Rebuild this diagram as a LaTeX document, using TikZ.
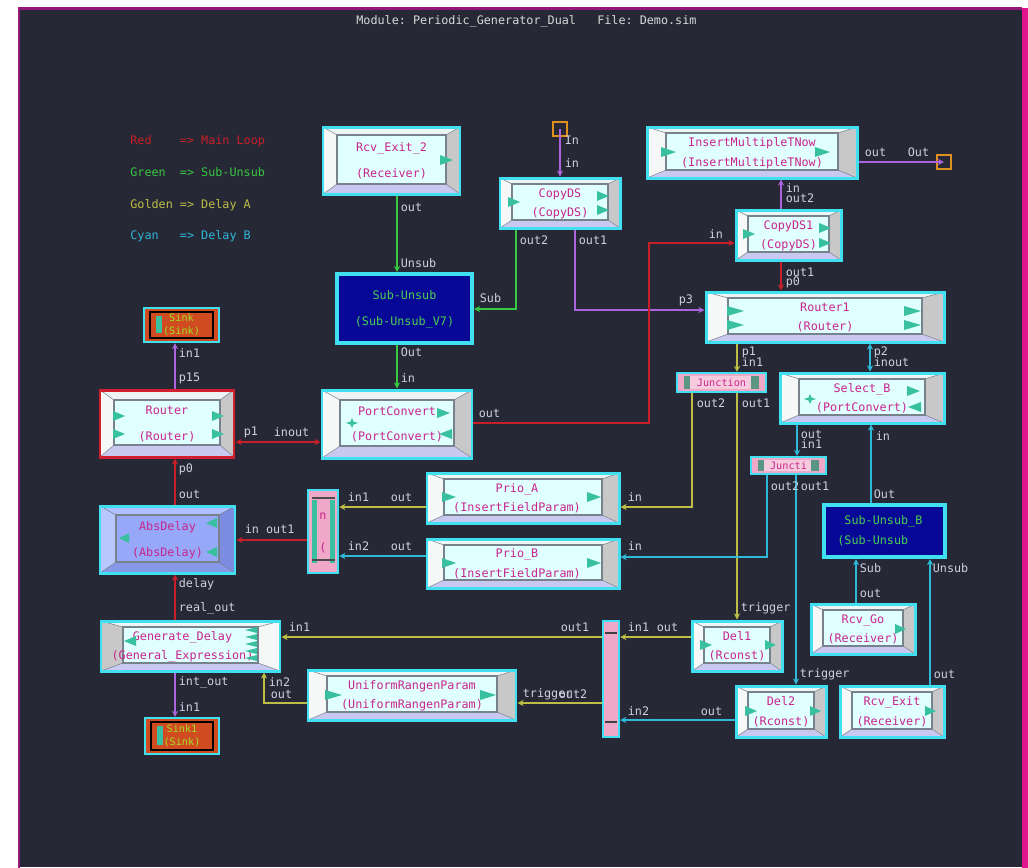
\documentclass[tikz,border=0pt]{standalone}
\usepackage{fontspec}
\setmonofont{DejaVu Sans Mono}
\usepackage{tikz}
\usetikzlibrary{arrows.meta, calc, fit}
\definecolor{bgdark}{RGB}{38,40,54}
\definecolor{frmpurple}{RGB}{150,24,120}
\definecolor{frmpink}{RGB}{224,20,140}
\definecolor{bcyan}{RGB}{64,224,240}
\definecolor{bface}{RGB}{224,255,255}
\definecolor{bvleft}{RGB}{246,248,248}
\definecolor{bvright}{RGB}{200,200,200}
\definecolor{bvtop}{RGB}{236,244,244}
\definecolor{bvbot}{RGB}{200,200,240}
\definecolor{bvedge}{RGB}{120,130,140}
\definecolor{bmag}{RGB}{200,36,140}
\definecolor{tricol}{RGB}{56,192,160}
\definecolor{plgray}{RGB}{208,208,224}
\definecolor{lnred}{RGB}{200,32,40}
\definecolor{lngreen}{RGB}{56,200,64}
\definecolor{lngold}{RGB}{190,190,70}
\definecolor{lncyan}{RGB}{48,184,216}
\definecolor{lnpurple}{RGB}{170,100,220}
\definecolor{suublue}{RGB}{8,8,150}
\definecolor{suutext}{RGB}{72,208,80}
\definecolor{absface}{RGB}{152,168,248}
\definecolor{absleft}{RGB}{184,200,255}
\definecolor{absright}{RGB}{124,140,224}
\definecolor{abstop}{RGB}{176,192,255}
\definecolor{absbot}{RGB}{136,152,232}
\definecolor{jpink}{RGB}{240,168,200}
\definecolor{jteal}{RGB}{90,150,130}
\definecolor{sinkred}{RGB}{208,76,32}
\definecolor{sinktxt}{RGB}{160,224,40}
\definecolor{portorange}{RGB}{224,144,32}
\definecolor{rtred}{RGB}{210,32,48}
\definecolor{ttlgray}{RGB}{216,216,216}
\newcommand{\blkfont}{\fontsize{6.7}{11.3}\selectfont\ttfamily}
\newcommand{\smlfont}{\fontsize{5.8}{7.4}\selectfont\ttfamily}
\newcommand{\blkt}[1]{\begin{tabular}{@{}c@{}}#1\end{tabular}}
\tikzset{
  blk/.style={rectangle, draw=bcyan, fill=bface, line width=1.7pt, inner sep=0pt},
  btxt/.style={inner sep=0pt, text=bmag, font=\blkfont},
  gbevel/.style n args={6}{path picture={
    \coordinate (bA) at (path picture bounding box.north west);
    \coordinate (bB) at (path picture bounding box.south east);
    \coordinate (iA) at ($(bA)+(#1,#2)$);
    \coordinate (iB) at ($(bB)+(-#1,-#2-2)$);
    \fill[#5] (bA) -- (bA -| bB) -- (iB |- iA) -- (iA) -- cycle;
    \fill[#6] (bA |- bB) -- (bB) -- (iB) -- (iA |- iB) -- cycle;
    \fill[#3] (bA) -- (iA) -- (iA |- iB) -- (bA |- bB) -- cycle;
    \fill[#4] (bA -| bB) -- (iB |- iA) -- (iB) -- (bB) -- cycle;
    \draw[bvedge, line width=0.3pt] (bA) -- (iA) (bA -| bB) -- (iB |- iA)
      (bB) -- (iB) (bA |- bB) -- (iA |- iB);
    \draw[bvedge, line width=0.6pt] (iA) rectangle (iB);
  }},
  bevel/.style 2 args={gbevel={#1}{#2}{bvleft}{bvright}{bvtop}{bvbot}},
  revbevel/.style 2 args={gbevel={#1}{#2}{bvright}{bvleft}{bvtop}{bvbot}},
  bluebevel/.style 2 args={fill=absface, gbevel={#1}{#2}{absleft}{absright}{abstop}{absbot}},
  suu/.style={rectangle, draw=bcyan, fill=suublue, line width=2.3pt, inner sep=0pt},
  stxt/.style={inner sep=0pt, text=suutext, font=\blkfont},
  suutxt/.style={anchor=west, inner sep=0pt, text=suutext, font=\blkfont, align=left},
  jnc/.style={rectangle, draw=bcyan, fill=jpink, line width=1.2pt, inner sep=0pt,
    path picture={
      \fill[jteal] ($(path picture bounding box.north west)+(7,3)$)
        rectangle ($(path picture bounding box.south east)+(-7,-3)$);
      \fill[jpink!60] ($(path picture bounding box.north west)+(13,3)$)
        rectangle ($(path picture bounding box.south east)+(-15,-3)$);}},
  jtxt/.style={inner sep=0pt, text=bmag, font=\smlfont},
  snk/.style={rectangle, draw=bcyan, fill=sinkred, line width=1.2pt, inner sep=0pt,
    path picture={
      \draw[black, line width=0.6pt] ($(path picture bounding box.north west)+(6,4)$)
        rectangle ($(path picture bounding box.south east)+(-6,-4)$);
      \fill[tricol] ($(path picture bounding box.north west)+(12,8)$)
        rectangle ($(path picture bounding box.south west)+(18,-9)$);}},
  ktxt/.style={inner sep=0pt, text=sinktxt, font=\smlfont},
  pnk/.style={rectangle, draw=bcyan, fill=jpink, line width=1.4pt, inner sep=0pt},
  pbox/.style={rectangle, draw=portorange, line width=0.8pt, minimum size=0.28cm, inner sep=0pt},
  plab/.style={anchor=west, inner sep=0.3pt, text=plgray, font=\blkfont},
  leg/.style={anchor=west, inner sep=0pt, font=\blkfont},
  tritip/.style={fill=tricol},
  port/.style={line width=0.8pt, -{Stealth[length=3.5pt, width=3.5pt]}},
  twoway/.style={line width=0.8pt, {Stealth[length=3.5pt, width=3.5pt]}-{Stealth[length=3.5pt, width=3.5pt]}}
}
\begin{document}
\begin{tikzpicture}[x=0.02cm, y=-0.02cm]
  \useasboundingbox (0,0) rectangle (1028,867);
  % window frame
  \fill[white] (0,0) rectangle (1028,867);
  \fill[bgdark] (19,8) rectangle (1028,867);
  \draw[frmpurple, line width=1.7pt] (19,875) -- (19,8) -- (1022,8);
  \draw[frmpink, line width=3pt] (1025,8) -- (1025,875);

  \node[anchor=west, inner sep=0pt, text=ttlgray, font=\blkfont] (title) at (356,21)
    {Module:~Periodic\_Generator\_Dual~~~File:~Demo.sim};

  % legend
  \node[leg, text=lnred] (legred) at (130,141) {Red~~~~=>~Main~Loop};
  \node[leg, text=lngreen] (leggreen) at (130,172) {Green~~=>~Sub-Unsub};
  \node[leg, text=lngold] (leggold) at (130,205) {Golden~=>~Delay~A};
  \node[leg, text=lncyan] (legcyan) at (130,236) {Cyan~~~=>~Delay~B};

  % actors
  \node[blk, bevel={14}{8}, fit={(323,127) (460,194)},
    label={[btxt]center:\blkt{Rcv\_Exit\_2\\[3.4pt](Receiver)}}] (rcvexittwo) {};
  \node[suu, fit={(337,274) (472,343)},
    label={[stxt]center:\blkt{Sub-Unsub\\[3.4pt](Sub-Unsub\_V7)}}] (subunsub) {};
  \node[pbox] (inport) at (560,129) {};
  \node[blk, bevel={12}{6}, fit={(500,178) (620,228)},
    label={[btxt]center:\blkt{CopyDS\\(CopyDS)}}] (cpyds) {};
  \node[blk, bevel={19}{6}, fit={(647,127) (857,178)},
    label={[btxt]center:\blkt{InsertMultipleTNow\\(InsertMultipleTNow)}}] (insmulti) {};
  \node[pbox] (outport) at (944,162) {};
  \node[blk, bevel={12}{6}, fit={(736,210) (841,260)},
    label={[btxt]center:\blkt{CopyDS1\\(CopyDS)}}] (cpydsone) {};
  \node[blk, bevel={22}{6}, fit={(706,292) (944,342)},
    label={[btxt]center:\blkt{Router1\\(Router)}}] (routerone) {};
  \node[jnc, fit={(677,373) (766,392)}, label={[jtxt]center:Junction}] (jnca) {};
  \node[blk, bevel={19}{6}, fit={(780,373) (944,423)},
    label={[btxt]center:\blkt{Select\_B\\(PortConvert)}}] (selb) {};
  \node[jnc, fit={(751,457) (826,474)}, label={[jtxt]center:Juncti}] (jncb) {};
  \node[suu, fit={(824,505) (945,557)}] (subunsubb) {};
  \node[suutxt] (subunsubbtxt) at (837,531) {\hphantom{(}Sub-Unsub\_B\\(Sub-Unsub};
  \node[blk, bevel={12}{6}, fit={(811,604) (915,654)},
    label={[btxt]center:\blkt{Rcv\_Go\\(Receiver)}}] (rcvgo) {};
  \node[blk, bevel={12}{6}, fit={(840,686) (944,737)},
    label={[btxt]center:\blkt{Rcv\_Exit\\(Receiver)}}] (rcvexit) {};
  \node[blk, bevel={12}{6}, fit={(736,686) (826,737)},
    label={[btxt]center:\blkt{Del2\\(Rconst)}}] (deltwo) {};
  \node[blk, bevel={12}{6}, fit={(692,621) (782,671)},
    label={[btxt]center:\blkt{Del1\\(Rconst)}}] (delone) {};
  \node[pnk, fit={(603,621) (619,737)}, path picture={
      \draw[black!75, line width=0.8pt] ($(path picture bounding box.north west)+(2,12)$) -- ++(12,0);
      \draw[black!75, line width=0.8pt] ($(path picture bounding box.south west)+(2,-15)$) -- ++(12,0);}] (mrg) {};
  \node[blk, bevel={19}{6}, fit={(308,670) (516,720)},
    label={[btxt]center:\blkt{UniformRangenParam\\(UniformRangenParam)}}] (unif) {};
  \node[blk, revbevel={22}{6}, fit={(101,621) (280,671)},
    label={[btxt, xshift=-0.16cm]center:\blkt{Generate\_Delay\\(General\_Expression)}}] (gendelay) {};
  \node[snk, fit={(145,718) (219,754)}, label={[ktxt]center:\blkt{Sink1\\(Sink)}}] (sinkone) {};
  \node[snk, fit={(144,308) (219,342)}, label={[ktxt]center:\blkt{Sink\\(Sink)}}] (sink) {};
  \node[blk, draw=rtred, bevel={14}{10}, fit={(100,390) (234,457)},
    label={[btxt]center:\blkt{Router\\[3.4pt](Router)}}] (router) {};
  \node[blk, bevel={18}{10}, fit={(322,390) (472,458)},
    label={[btxt]center:\blkt{PortConvert\\[3.4pt](PortConvert)}}] (portconv) {};
  \node[blk, bluebevel={16}{9}, fit={(100,506) (235,573)},
    label={[btxt]center:\blkt{AbsDelay\\[3.4pt](AbsDelay)}}] (absdelay) {};
  \node[pnk, fit={(308,490) (338,573)}, path picture={
      \coordinate (bA) at (path picture bounding box.north west);
      \fill[tricol] ($(bA)+(4,10)$) rectangle ($(bA)+(9,73)$);
      \fill[tricol] ($(bA)+(22,10)$) rectangle ($(bA)+(27,73)$);
      \draw[black!70, line width=0.6pt] ($(bA)+(4,8)$) -- ($(bA)+(27,8)$);
      \draw[black!70, line width=0.6pt] ($(bA)+(4,70)$) -- ($(bA)+(27,70)$);},
    label={[btxt]center:\blkt{n\\[6.7pt](}}] (prionode) {};
  \node[blk, bevel={17}{6}, fit={(427,473) (619,523)},
    label={[btxt, xshift=-0.12cm]center:\blkt{Prio\_A\\(InsertFieldParam)}}] (prioa) {};
  \node[blk, bevel={17}{6}, fit={(427,539) (619,588)},
    label={[btxt, xshift=-0.12cm]center:\blkt{Prio\_B\\(InsertFieldParam)}}] (priob) {};

  % port icons
  \foreach \x/\y/\w in {440/160/13, 508/202/12, 597/196/12, 597/210/12, 661/152/15, 815/152/15,
      743/234/12, 819/228/12, 819/243/12, 727/311/17, 727/325/17, 904/311/17, 904/325/17,
      113/416/12, 113/434/12, 212/416/12, 212/434/12, 437/413/13, 452/434/-13,
      907/391/13, 921/407/-13, 217/523/-11, 217/552/-11, 129/538/-10,
      442/497/14, 587/497/14, 442/563/14, 587/563/14, 136/641/-12, 325/695/17, 480/695/16,
      700/645/12, 765/645/11, 745/711/12, 810/711/11, 895/629/11, 925/711/11}
    \fill[tritip] (\x,\y-5) -- (\x,\y+5) -- ({\x+(\w)},\y) -- cycle;
  \foreach \y in {630,637,644,651,658}
    \fill[tritip] (257,\y-3) -- (257,\y+3) -- (245,\y) -- cycle;
  \foreach \x/\y in {352/423, 810/399}
    \fill[tritip] (\x-6,\y) -- (\x-1.5,\y-1.5) -- (\x,\y-5) -- (\x+1.5,\y-1.5) -- (\x+6,\y)
      -- (\x+1.5,\y+1.5) -- (\x,\y+5) -- (\x-1.5,\y+1.5) -- cycle;

  % green: sub-unsub
  \draw[lngreen, port] (rcvexittwo.south -| 397,0) -- (subunsub.north -| 397,0);
  \draw[lngreen, port] (cpyds.south -| 516,0) |- (subunsub.east |- 0,309);
  \draw[lngreen, port] (subunsub.south -| 397,0) -- (portconv.north -| 397,0);

  % purple
  \draw[lnpurple, port] (inport.center) -- (cpyds.north);
  \draw[lnpurple, port] (cpyds.south -| 575,0) |- (routerone.west |- 0,310);
  \draw[lnpurple, port] (cpydsone.north -| 781,0) -- (insmulti.south -| 781,0);
  \draw[lnpurple, port] (insmulti.east |- 0,162) -- (outport.center);
  \draw[lnpurple, port] (router.north -| 175,0) -- (sink.south -| 175,0);
  \draw[lnpurple, port] (gendelay.south -| 175,0) -- (sinkone.north -| 175,0);

  % red: main loop
  \draw[lnred, port] (portconv.east |- 0,423) -- (649,423) |- (cpydsone.west |- 0,243);
  \draw[lnred, port] (cpydsone.south -| 781,0) -- (routerone.north -| 781,0);
  \draw[lnred, twoway] (router.east |- 0,442) -- (portconv.west |- 0,442);
  \draw[lnred, port] (absdelay.north -| 175,0) -- (router.south -| 175,0);
  \draw[lnred, port] (prionode.west |- 0,540) -- (absdelay.east |- 0,540);
  \draw[lnred, port] (gendelay.north -| 175,0) -- (absdelay.south -| 175,0);

  % golden: delay A
  \draw[lngold, port] (routerone.south -| 737,0) -- (jnca.north -| 737,0);
  \draw[lngold, port] (jnca.south -| 737,0) -- (delone.north -| 737,0);
  \draw[lngold, port] (jnca.south -| 692,0) |- (prioa.east |- 0,507);
  \draw[lngold, port] (prioa.west |- 0,507) -- (prionode.east |- 0,507);
  \draw[lngold, port] (mrg.west |- 0,637) -- (gendelay.east |- 0,637);
  \draw[lngold, port] (delone.west |- 0,637) -- (mrg.east |- 0,637);
  \draw[lngold, port] (mrg.west |- 0,703) -- (unif.east |- 0,703);
  \draw[lngold, port] (unif.west |- 0,703) -| (gendelay.south -| 264,0);

  % cyan: delay B
  \draw[lncyan, twoway] (routerone.south -| 870,0) -- (selb.north -| 870,0);
  \draw[lncyan, port] (selb.south -| 797,0) -- (jncb.north -| 797,0);
  \draw[lncyan, port] (jncb.south -| 767,0) |- (priob.east |- 0,557);
  \draw[lncyan, port] (jncb.south -| 796,0) -- (deltwo.north -| 796,0);
  \draw[lncyan, port] (priob.west |- 0,556) -- (prionode.east |- 0,556);
  \draw[lncyan, port] (deltwo.west |- 0,720) -- (mrg.east |- 0,720);
  \draw[lncyan, port] (subunsubb.north -| 871,0) -- (selb.south -| 871,0);
  \draw[lncyan, port] (rcvgo.north -| 856,0) -- (subunsubb.south -| 856,0);
  \draw[lncyan, port] (rcvexit.north -| 930,0) -- (subunsubb.south -| 930,0);

  % port names
  \foreach \x/\y/\t [count=\i] in {400/207/out, 400/263/Unsub, 564/140/In, 564/163/in,
      519/240/out2, 578/240/out1, 479/298/Sub, 400/352/Out, 400/378/in, 478/413/out,
      708/234/in, 864/152/out, 907/152/Out, 785/188/in, 785/198/out2, 785/272/out1,
      785/282/p0, 678/300/p3, 741/352/p1, 741/362/in1, 873/352/p2, 873/362/inout,
      696/403/out2, 741/403/out1, 627/497/in, 627/546/in, 800/434/out, 800/444/in1,
      875/436/in, 770/486/out2, 800/486/out1, 873/494/Out, 859/568/Sub, 932/568/Unsub,
      859/593/out, 740/608/trigger, 799/674/trigger, 933/674/out, 627/627/in1,
      656/627/out, 560/627/out1, 522/694/trigger, 558/694/out2, 627/711/in2, 700/711/out,
      288/627/in1, 178/608/real\_out, 178/682/int\_out, 178/707/in1, 268/682/in2,
      270/694/out, 178/353/in1, 178/378/p15, 243/432/p1, 273/432/inout, 178/469/p0,
      178/494/out, 244/529/in out1, 178/584/delay, 347/497/in1, 390/497/out,
      347/546/in2, 390/546/out}
    \node[plab] (pl\i) at (\x,\y) {\t};
\end{tikzpicture}
\end{document}
